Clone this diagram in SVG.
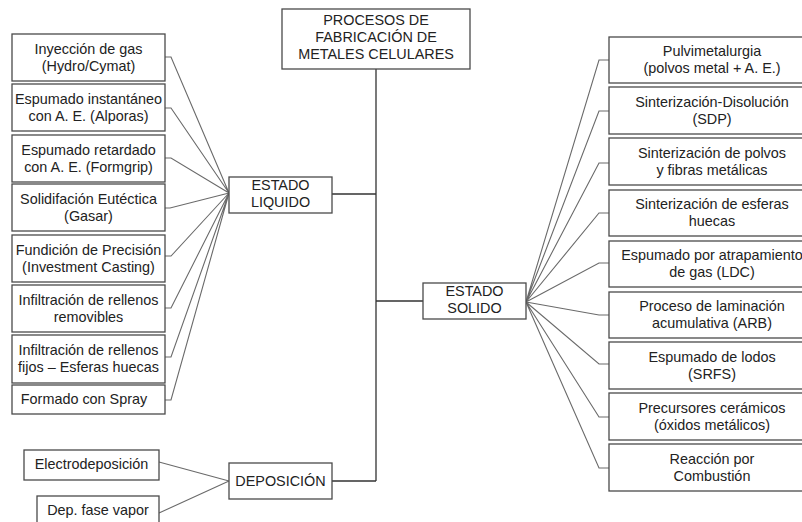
<svg xmlns="http://www.w3.org/2000/svg" width="802" height="522" viewBox="0 0 802 522">
<style>
.b{fill:#fff;stroke:#4a4a4a;stroke-width:1.3}
.t{font-family:"Liberation Sans",Arial,sans-serif;font-size:14.4px;fill:#222;text-anchor:middle}
.c{fill:none;stroke:#6a6a6a;stroke-width:1.1}
.k{fill:none;stroke:#333;stroke-width:1.3}
</style>
<rect width="802" height="522" fill="#fff"/>
<g id="connectors">
<path class="k" d="M376 69V481M332 194H376M376 301H423M332 481H376"/>
<path class="c" d="M165 57H171L229 193M165 108H171L229 193M165 158H171L229 193M165 208H170L229 193M165 256H171L229 193M165 308H171L229 193M165 357H171L229 193M165 400H171L229 193"/>
<path class="c" d="M609 60H599L526 302M609 111H599L526 302M609 163H599L526 302M609 213H599L526 302M609 263H599L526 302M609 315H599L526 302M609 364H599L526 302M609 417H599L526 302M609 468H599L526 302"/>
<path class="c" d="M159 462L229 481M159 513L229 481"/>
</g>
<g id="titulo"><rect class="b" x="282" y="9" width="188" height="60"/><text class="t" x="376" y="25">PROCESOS DE</text><text class="t" x="376" y="42">FABRICACIÓN DE</text><text class="t" x="376" y="59">METALES CELULARES</text></g>
<g id="liquido"><rect class="b" x="229" y="177" width="103" height="36"/><text class="t" x="280.5" y="190">ESTADO</text><text class="t" x="280.5" y="207">LIQUIDO</text></g>
<g id="solido"><rect class="b" x="423" y="283" width="103" height="36"/><text class="t" x="474.5" y="296">ESTADO</text><text class="t" x="474.5" y="313">SOLIDO</text></g>
<g id="deposicion"><rect class="b" x="229" y="463" width="103" height="36"/><text class="t" x="280.5" y="486">DEPOSICIÓN</text></g>
<g id="l1"><rect class="b" x="12" y="34" width="153" height="47"/><text class="t" x="88.5" y="53.5">Inyección de gas</text><text class="t" x="88.5" y="70.5">(Hydro/Cymat)</text></g>
<g id="l2"><rect class="b" x="12" y="84" width="153" height="47"/><text class="t" x="88.5" y="103.5">Espumado instantáneo</text><text class="t" x="88.5" y="120.5">con A. E. (Alporas)</text></g>
<g id="l3"><rect class="b" x="12" y="135" width="153" height="47"/><text class="t" x="88.5" y="154.5">Espumado retardado</text><text class="t" x="88.5" y="171.5">con A. E. (Formgrip)</text></g>
<g id="l4"><rect class="b" x="12" y="184" width="153" height="47"/><text class="t" x="88.5" y="203.5">Solidifación Eutéctica</text><text class="t" x="88.5" y="220.5">(Gasar)</text></g>
<g id="l5"><rect class="b" x="12" y="235" width="153" height="47"/><text class="t" x="88.5" y="254.5">Fundición de Precisión</text><text class="t" x="88.5" y="271.5">(Investment Casting)</text></g>
<g id="l6"><rect class="b" x="12" y="285" width="153" height="47"/><text class="t" x="88.5" y="304.5">Infiltración de rellenos</text><text class="t" x="88.5" y="321.5">removibles</text></g>
<g id="l7"><rect class="b" x="12" y="335" width="153" height="48"/><text class="t" x="88.5" y="355">Infiltración de rellenos</text><text class="t" x="88.5" y="372">fijos – Esferas huecas</text></g>
<g id="l8"><rect class="b" x="12" y="385" width="153" height="29"/><text class="t" x="84" y="404">Formado con Spray</text></g>
<g id="d1"><rect class="b" x="24" y="450" width="135" height="30"/><text class="t" x="91.5" y="469">Electrodeposición</text></g>
<g id="d2"><rect class="b" x="37" y="496" width="122" height="32"/><text class="t" x="98" y="515">Dep. fase vapor</text></g>
<g id="r1"><rect class="b" x="609" y="37" width="210" height="46"/><text class="t" x="712" y="56">Pulvimetalurgia</text><text class="t" x="712" y="73">(polvos metal + A. E.)</text></g>
<g id="r2"><rect class="b" x="609" y="87" width="210" height="47"/><text class="t" x="712" y="106.5">Sinterización-Disolución</text><text class="t" x="712" y="123.5">(SDP)</text></g>
<g id="r3"><rect class="b" x="609" y="138" width="210" height="47"/><text class="t" x="712" y="157.5">Sinterización de polvos</text><text class="t" x="712" y="174.5">y fibras metálicas</text></g>
<g id="r4"><rect class="b" x="609" y="190" width="210" height="46"/><text class="t" x="712" y="209">Sinterización de esferas</text><text class="t" x="712" y="226">huecas</text></g>
<g id="r5"><rect class="b" x="609" y="241" width="210" height="46"/><text class="t" x="712" y="260">Espumado por atrapamiento</text><text class="t" x="712" y="277">de gas (LDC)</text></g>
<g id="r6"><rect class="b" x="609" y="292" width="210" height="46"/><text class="t" x="712" y="311">Proceso de laminación</text><text class="t" x="712" y="328">acumulativa (ARB)</text></g>
<g id="r7"><rect class="b" x="609" y="342" width="210" height="47"/><text class="t" x="712" y="361.5">Espumado de lodos</text><text class="t" x="712" y="378.5">(SRFS)</text></g>
<g id="r8"><rect class="b" x="609" y="393" width="210" height="47"/><text class="t" x="712" y="412.5">Precursores cerámicos</text><text class="t" x="712" y="429.5">(óxidos metálicos)</text></g>
<g id="r9"><rect class="b" x="609" y="444" width="210" height="47"/><text class="t" x="712" y="463.5">Reacción por</text><text class="t" x="712" y="480.5">Combustión</text></g>
</svg>
